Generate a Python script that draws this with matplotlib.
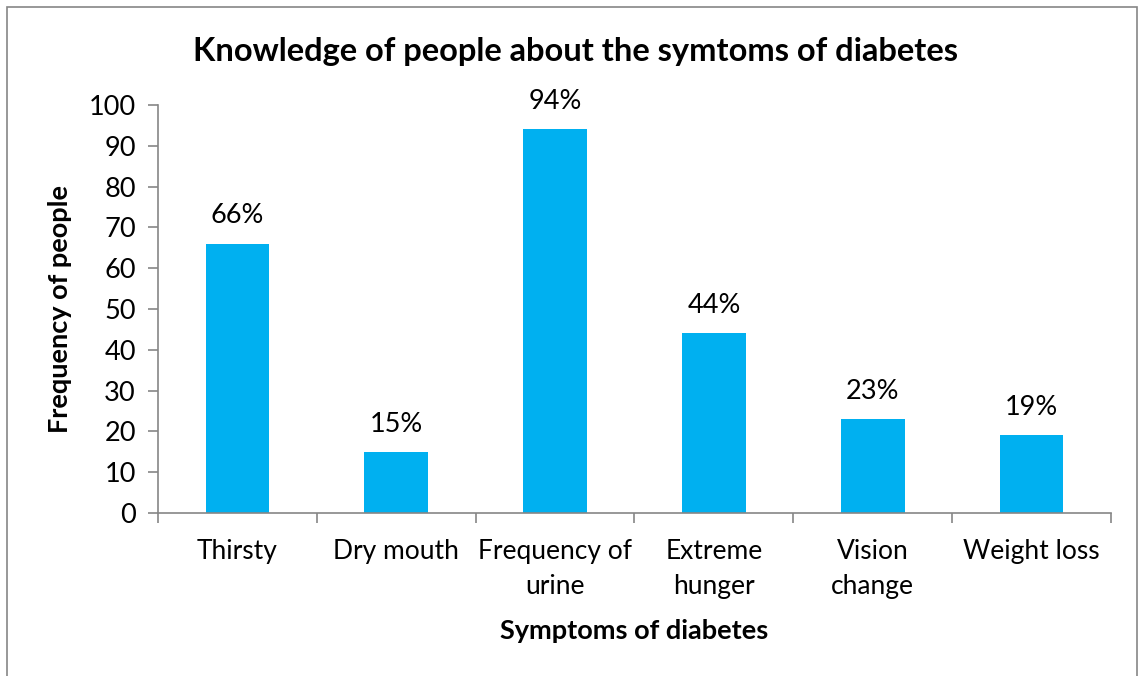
import matplotlib.pyplot as plt
from matplotlib.patches import Rectangle
import numpy as np

symptoms = ['Thirsty', 'Dry mouth', 'Frequency of\nurine', 'Extreme\nhunger', 'Vision\nchange', 'Weight loss']
frequency = [66, 15, 94, 44, 23, 19]
labels = ['66%', '15%', '94%', '44%', '23%', '19%']

plt.rcParams['font.family'] = ['Lato', 'DejaVu Sans']
grey = '#868686'

fig = plt.figure(figsize=(11.39, 6.76), dpi=100)
ax = fig.add_axes([158/1139, 1 - 513/676, (1111-158)/1139, (513-105)/676])

x = np.arange(len(symptoms))
bars = ax.bar(x, frequency, width=0.40, color='#00B0F0')
for b, t in zip(bars, labels):
    ax.annotate(t, (b.get_x() + b.get_width()/2, b.get_height()), xytext=(0, 11),
                textcoords='offset points', ha='center', va='bottom', fontsize=19.5)

ax.set_xlim(-0.5, len(symptoms) - 0.5)
ax.set_ylim(0, 100)
ax.set_yticks(range(0, 101, 10))
ax.set_xticks(x)
ax.set_xticklabels(symptoms, fontsize=19, linespacing=1.5)
ax.set_xticks(np.arange(-0.5, len(symptoms)), minor=True)
ax.tick_params(axis='x', which='major', length=0, pad=19)
ax.tick_params(axis='x', which='minor', length=7, color=grey, width=1.2)
ax.tick_params(axis='y', length=7, color=grey, width=1.2, labelsize=19.5, pad=9)

for s in ['top', 'right']:
    ax.spines[s].set_visible(False)
for s in ['left', 'bottom']:
    ax.spines[s].set_color(grey)
    ax.spines[s].set_linewidth(1.2)

ax.set_xlabel('Symptoms of diabetes', fontsize=19.5, fontweight='bold', labelpad=14)
ax.set_ylabel('Frequency of people', fontsize=19.5, fontweight='bold', labelpad=12)
fig.text(0.505, 1 - 51/676, 'Knowledge of people about the symtoms of diabetes',
         ha='center', va='center', fontsize=23.5, fontweight='bold')

# chart border
fig.patches.append(Rectangle((7/1139, -0.05), 1130/1139, 1.05 - 7/676, transform=fig.transFigure,
                             fill=False, edgecolor=grey, linewidth=1.2))

fig.savefig('out.png', dpi=100)
